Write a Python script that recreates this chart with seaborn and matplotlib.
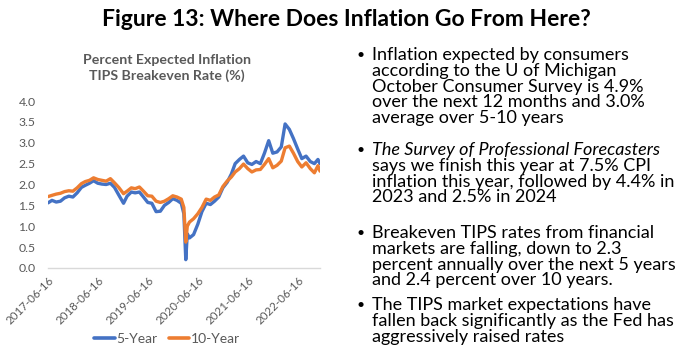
import numpy as np
import pandas as pd
import matplotlib
matplotlib.use("Agg")
import matplotlib.pyplot as plt
from matplotlib.lines import Line2D
import seaborn as sns

# ---------------- data ----------------
dates = [
    "2017-06-16", "2017-07-15", "2017-08-15", "2017-09-15", "2017-10-15", "2017-11-15",
    "2017-12-15", "2018-01-15", "2018-02-15", "2018-03-15", "2018-04-15", "2018-05-15",
    "2018-06-15", "2018-07-15", "2018-08-15", "2018-09-15", "2018-10-15", "2018-11-15",
    "2018-12-20", "2019-01-15", "2019-02-15", "2019-03-15", "2019-04-15", "2019-05-15",
    "2019-06-15", "2019-07-15", "2019-08-15", "2019-09-15", "2019-10-15", "2019-11-15",
    "2019-12-15", "2020-01-15", "2020-02-15", "2020-03-05", "2020-03-19", "2020-03-30",
    "2020-04-15", "2020-05-15", "2020-06-15", "2020-07-15", "2020-08-15", "2020-09-15",
    "2020-10-15", "2020-11-15", "2020-12-15", "2021-01-15", "2021-02-15", "2021-03-15",
    "2021-04-15", "2021-05-15", "2021-06-15", "2021-07-15", "2021-08-15", "2021-09-15",
    "2021-10-15", "2021-11-15", "2021-12-15", "2022-01-15", "2022-02-15", "2022-03-15",
    "2022-04-15", "2022-05-15", "2022-06-15", "2022-07-15", "2022-08-15", "2022-09-15",
    "2022-10-15", "2022-11-10", "2022-11-25",
]
five_year = [
    1.56, 1.62, 1.58, 1.60, 1.68, 1.72, 1.70, 1.80, 1.93, 1.98, 2.03, 2.09,
    2.03, 2.01, 2.00, 2.03, 1.93, 1.75, 1.55, 1.72, 1.82, 1.80, 1.82, 1.70,
    1.57, 1.55, 1.35, 1.36, 1.50, 1.57, 1.66, 1.62, 1.55, 1.30, 0.20, 0.82,
    0.72, 0.80, 1.05, 1.35, 1.55, 1.52, 1.60, 1.70, 1.92, 2.05, 2.25, 2.50,
    2.60, 2.68, 2.52, 2.48, 2.55, 2.50, 2.75, 3.05, 2.75, 2.78, 2.90, 3.45,
    3.32, 3.10, 2.85, 2.62, 2.68, 2.55, 2.50, 2.60, 2.50,
]
ten_year = [
    1.71, 1.74, 1.77, 1.79, 1.83, 1.85, 1.84, 1.92, 2.02, 2.07, 2.10, 2.16,
    2.12, 2.10, 2.08, 2.14, 2.04, 1.93, 1.78, 1.84, 1.92, 1.90, 1.94, 1.84,
    1.73, 1.72, 1.60, 1.57, 1.60, 1.66, 1.73, 1.70, 1.65, 1.45, 0.62, 1.00,
    1.10, 1.18, 1.30, 1.45, 1.65, 1.62, 1.70, 1.75, 1.95, 2.08, 2.18, 2.30,
    2.38, 2.49, 2.38, 2.30, 2.35, 2.36, 2.48, 2.62, 2.40, 2.46, 2.56, 2.88,
    2.92, 2.75, 2.55, 2.42, 2.52, 2.38, 2.28, 2.45, 2.32,
]
series_names = ["5-Year", "10-Year"]
y_ticks = [0.0, 0.5, 1.0, 1.5, 2.0, 2.5, 3.0, 3.5, 4.0]
x_tick_labels = ["2017-06-16", "2018-06-16", "2019-06-16", "2020-06-16", "2021-06-16", "2022-06-16"]

fig_title = "Figure 13: Where Does Inflation Go From Here?"
chart_title = "Percent Expected Inflation\nTIPS Breakeven Rate (%)"

bullets = [
    [("Inflation expected by consumers", "normal"),
     ("according to the U of Michigan", "normal"),
     ("October Consumer Survey is 4.9%", "normal"),
     ("over the next 12 months and 3.0%", "normal"),
     ("average over 5-10 years", "normal")],
    [("The Survey of Professional Forecasters", "italic"),
     ("says we finish this year at 7.5% CPI", "normal"),
     ("inflation this year, followed by 4.4% in", "normal"),
     ("2023 and 2.5% in 2024", "normal")],
    [("Breakeven TIPS rates from financial", "normal"),
     ("markets are falling, down to 2.3", "normal"),
     ("percent annually over the next 5 years", "normal"),
     ("and 2.4 percent over 10 years.", "normal")],
    [("The TIPS market expectations have", "normal"),
     ("fallen back significantly as the Fed has", "normal"),
     ("aggressively raised rates", "normal")],
]

# ---------------- build frame ----------------
df = pd.DataFrame({
    "date": pd.to_datetime(dates * 2),
    "value": five_year + ten_year,
    "series": [series_names[0]] * len(dates) + [series_names[1]] * len(dates),
})

sns.set_theme(style="white")
plt.rcParams["font.family"] = ["Lato", "DejaVu Sans"]

W, H = 693, 348
fig = plt.figure(figsize=(W / 100, H / 100), dpi=100)
ax = fig.add_axes([48 / W, 1 - 268 / H, (320 - 48) / W, (268 - 101) / H])

colors = {"5-Year": "#4472C4", "10-Year": "#ED7D31"}
sns.lineplot(data=df, x="date", y="value", hue="series", palette=colors,
             hue_order=series_names, linewidth=2.4, ax=ax, legend=False)

ax.set_xlim(pd.Timestamp("2017-06-16"), pd.Timestamp("2022-11-25"))
ax.set_ylim(0, 4)
ax.set_yticks(y_ticks)
ax.set_yticklabels([f"{v:.1f}" for v in y_ticks], fontsize=8.8, color="#595959")
tick_pos = pd.to_datetime(x_tick_labels)
ax.set_xticks(tick_pos)
ax.set_xticklabels(x_tick_labels, rotation=45, ha="right", rotation_mode="anchor",
                   fontsize=8.3, color="#595959")
ax.tick_params(axis="y", length=0, pad=9)
ax.tick_params(axis="x", length=0, pad=5)
ax.set_xlabel("")
ax.set_ylabel("")
for s in ["left", "right", "top"]:
    ax.spines[s].set_visible(False)
ax.spines["bottom"].set_color("#D9D9D9")
ax.spines["bottom"].set_linewidth(1.0)
ax.grid(False)

# chart title
fig.text(167 / W, 1 - 68 / H, chart_title, ha="center", va="center",
         fontsize=10.2, fontweight="bold", color="#595959", linespacing=1.3)

# legend
handles = [Line2D([0], [0], color=colors[n], lw=2.6) for n in series_names]
fig.legend(handles, series_names, loc="center", bbox_to_anchor=(167 / W, 1 - 339 / H),
           ncol=2, frameon=False, fontsize=10, handlelength=1.5, handletextpad=0.1,
           columnspacing=0.8, labelcolor="#595959")

# figure title
fig.text(346 / W, 1 - 19 / H, fig_title, ha="center", va="center",
         fontsize=16.5, fontweight="bold", color="black")

# bullets
para_tops = [55, 150, 233, 305]
line_h = 15.8
for top, para in zip(para_tops, bullets):
    fig.text(356 / W, 1 - top / H, "\u2022", ha="left", va="center", fontsize=10, color="black")
    for i, (txt, style) in enumerate(para):
        fig.text(372 / W, 1 - (top + i * line_h) / H, txt, ha="left", va="center",
                 fontsize=13.0, style=style, color="black")

fig.savefig("out.png", dpi=100)
